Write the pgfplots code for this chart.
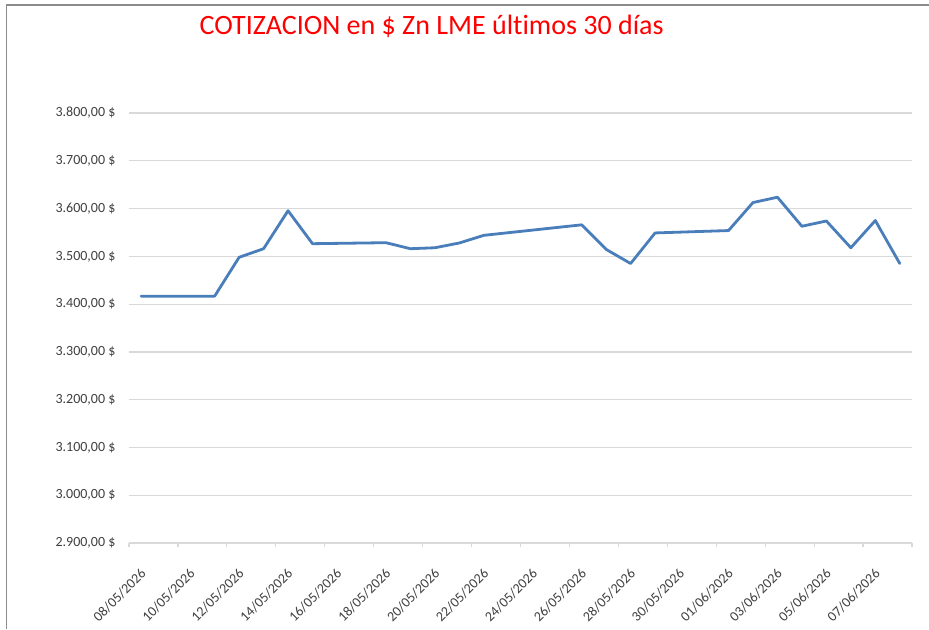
\documentclass[border=0pt]{standalone}
\usepackage{pgfplots}
\pgfplotsset{compat=1.18}
\usepackage{fontspec}
\setmainfont{Carlito}[Ligatures=NoCommon]
\definecolor{linec}{HTML}{4A7EBB}
\definecolor{gridc}{HTML}{D9D9D9}
\definecolor{txtc}{HTML}{404040}
\definecolor{framec}{HTML}{8C8C8C}
\begin{document}
\begin{tikzpicture}
\useasboundingbox (0,0) rectangle (464.5pt,314.5pt);
\fill[white] (0,0) rectangle (464.5pt,314.5pt);
\draw[framec, line width=0.75pt] (3.2pt,0) -- (3.2pt,312pt) -- (464.5pt,312pt);
\node[anchor=base, text=red, font=\fontsize{14}{16}\selectfont] at (215.85pt,297.35pt) {COTIZACION en \$ Zn LME últimos 30 días};
\begin{axis}[
  at={(64.5pt,43pt)}, anchor=south west,
  scale only axis, width=391.5pt, height=215pt,
  xmin=-0.5, xmax=31.5, ymin=2900, ymax=3800,
  axis x line*=bottom, axis y line*=left,
  x axis line style={draw=gridc, line width=0.6pt, -},
  y axis line style={draw=none},
  ytick={2900,3000,...,3800},
  yticklabels={{2.900,00 \$},{3.000,00 \$},{3.100,00 \$},{3.200,00 \$},{3.300,00 \$},{3.400,00 \$},{3.500,00 \$},{3.600,00 \$},{3.700,00 \$},{3.800,00 \$}},
  ymajorgrids, grid style={gridc, line width=0.6pt},
  ytick style={draw=none},
  yticklabel style={font=\fontsize{7}{8}\selectfont, text=txtc, xshift=1pt},
  xtick={0,2,...,30},
  xticklabels={08/05/2026,10/05/2026,12/05/2026,14/05/2026,16/05/2026,18/05/2026,20/05/2026,22/05/2026,24/05/2026,26/05/2026,28/05/2026,30/05/2026,01/06/2026,03/06/2026,05/06/2026,07/06/2026},
  major x tick style={draw=none},
  minor xtick={-0.5,1.5,...,31.5},
  minor x tick style={draw=gridc, line width=0.6pt},
  minor tick length=2pt, tick align=outside,
  xticklabel style={font=\fontsize{7}{8}\selectfont, text=txtc, rotate=45, anchor=north east, inner sep=1pt, yshift=-4pt, xshift=-5pt},
  clip=false,
]
\addplot[linec, line width=1.4pt, line join=round, line cap=round] coordinates {
(0,3416.7) (3,3416.7) (4,3498) (5,3516) (6,3595.5) (7,3526.5) (10,3528.6)
(11,3516) (12,3518) (13,3528) (14,3544) (18,3566) (19,3514.6) (20,3485)
(21,3549) (24,3554) (25,3612.6) (26,3623.8) (27,3563) (28,3574) (29,3518)
(30,3575) (31,3485)
};
\end{axis}
\end{tikzpicture}
\end{document}
